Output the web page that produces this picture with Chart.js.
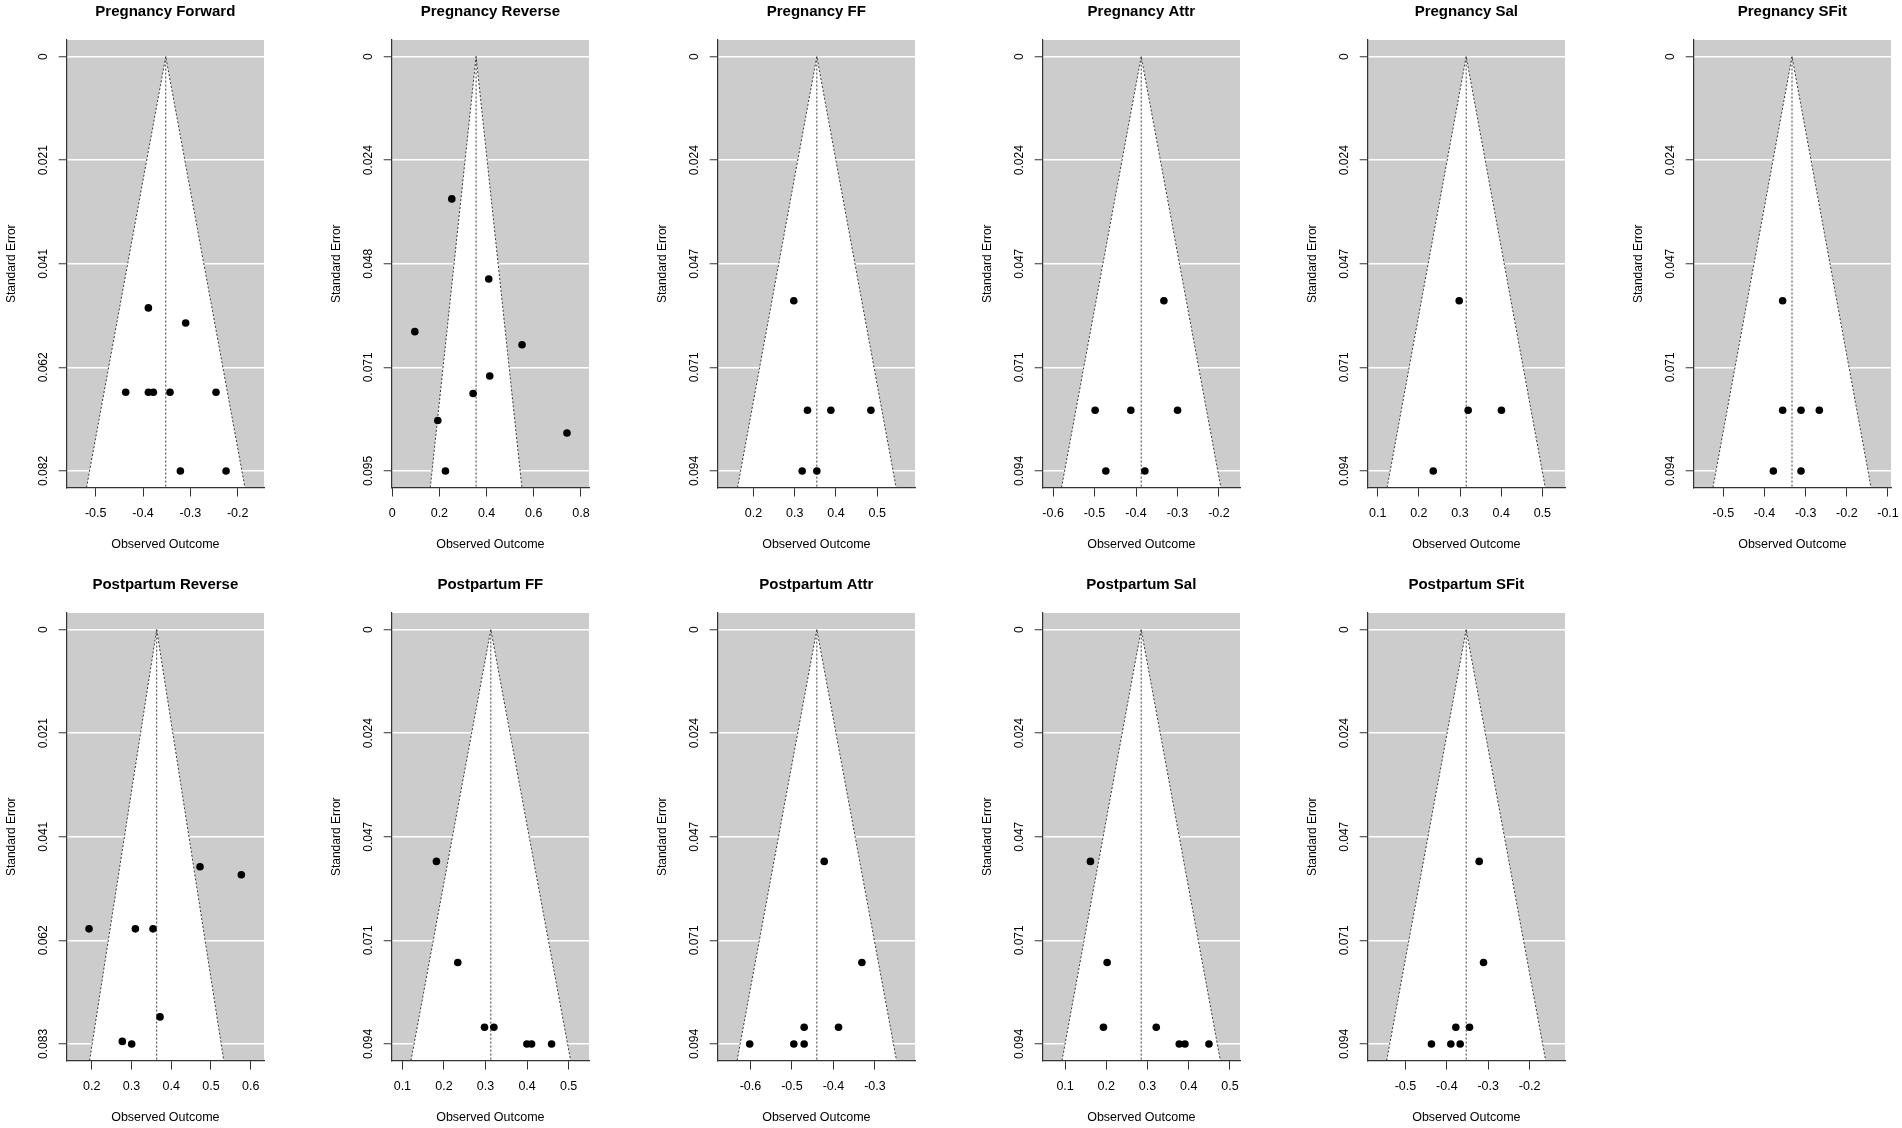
<!DOCTYPE html>
<html>
<head>
<meta charset="utf-8">
<script src="https://cdn.jsdelivr.net/npm/chart.js@4.4.0/dist/chart.umd.min.js"></script>
<style>
  html, body { margin: 0; padding: 0; background: #ffffff; }
  body { width: 1902px; height: 1128px; overflow: hidden; position: relative; }
  .panel { position: absolute; width: 275px; height: 555px; }
  canvas { display: block; }
</style>
</head>
<body>
<script>
// ---- panel titles ----
const titles = [
  'Pregnancy Forward', 'Pregnancy Reverse', 'Pregnancy FF', 'Pregnancy Attr', 'Pregnancy Sal', 'Pregnancy SFit',
  'Postpartum Reverse', 'Postpartum FF', 'Postpartum Attr', 'Postpartum Sal', 'Postpartum SFit'
];

// ---- pooled estimates (centre of each funnel) ----
const thetas = [-0.352, 0.3556, 0.3536, -0.3875, 0.315, -0.3332, 0.3635, 0.3128, -0.44, 0.2846, -0.3532];

// ---- largest standard error per panel ----
const seMax = [0.0821, 0.0952, 0.0942, 0.0942, 0.0942, 0.0942, 0.0828, 0.0942, 0.0942, 0.0942, 0.0942];

// ---- y tick labels (standard error) ----
const yTickLabels = [
  ['0', '0.021', '0.041', '0.062', '0.082'],
  ['0', '0.024', '0.048', '0.071', '0.095'],
  ['0', '0.024', '0.047', '0.071', '0.094'],
  ['0', '0.024', '0.047', '0.071', '0.094'],
  ['0', '0.024', '0.047', '0.071', '0.094'],
  ['0', '0.024', '0.047', '0.071', '0.094'],
  ['0', '0.021', '0.041', '0.062', '0.083'],
  ['0', '0.024', '0.047', '0.071', '0.094'],
  ['0', '0.024', '0.047', '0.071', '0.094'],
  ['0', '0.024', '0.047', '0.071', '0.094'],
  ['0', '0.024', '0.047', '0.071', '0.094']
];

// ---- x tick values (observed outcome) ----
const xTicks = [
  [-0.5, -0.4, -0.3, -0.2],
  [0, 0.2, 0.4, 0.6, 0.8],
  [0.2, 0.3, 0.4, 0.5],
  [-0.6, -0.5, -0.4, -0.3, -0.2],
  [0.1, 0.2, 0.3, 0.4, 0.5],
  [-0.5, -0.4, -0.3, -0.2, -0.1],
  [0.2, 0.3, 0.4, 0.5, 0.6],
  [0.1, 0.2, 0.3, 0.4, 0.5],
  [-0.6, -0.5, -0.4, -0.3],
  [0.1, 0.2, 0.3, 0.4, 0.5],
  [-0.5, -0.4, -0.3, -0.2]
];

// ---- x axis limits ----
const xMins = [-0.5613, -0.002, 0.1135, -0.625, 0.0758, -0.572, 0.1371, 0.0743, -0.6788, 0.0457, -0.5911];
const xMaxs = [-0.1444, 0.834, 0.5914, -0.1493, 0.555, -0.0927, 0.6335, 0.549, -0.2035, 0.5243, -0.1145];

// ---- study effects (yi) and standard errors (sei) ----
const pregForwardYi = [-0.3887, -0.3099, -0.4366, -0.3887, -0.3782, -0.3430, -0.2458, -0.3211, -0.2246];
const pregForwardSe = [0.0498, 0.0528, 0.0665, 0.0665, 0.0665, 0.0665, 0.0665, 0.0821, 0.0821];

const pregReverseYi = [0.2526, 0.4092, 0.0959, 0.5503, 0.4134, 0.3429, 0.1933, 0.7407, 0.2257];
const pregReverseSe = [0.0327, 0.0511, 0.0632, 0.0662, 0.0734, 0.0774, 0.0836, 0.0865, 0.0952];

const pregFFYi = [0.2978, 0.3310, 0.3876, 0.4846, 0.3181, 0.3536];
const pregFFSe = [0.0555, 0.0804, 0.0804, 0.0804, 0.0942, 0.0942];

const pregAttrYi = [-0.3328, -0.4986, -0.4125, -0.2998, -0.4728, -0.3787];
const pregAttrSe = [0.0555, 0.0804, 0.0804, 0.0804, 0.0942, 0.0942];

const pregSalYi = [0.298, 0.3198, 0.4006, 0.235];
const pregSalSe = [0.0555, 0.0804, 0.0804, 0.0942];

const pregSFitYi = [-0.3559, -0.3559, -0.3113, -0.2668, -0.3785, -0.3113];
const pregSFitSe = [0.0555, 0.0804, 0.0804, 0.0804, 0.0942, 0.0942];

const postReverseYi = [0.4725, 0.5765, 0.1933, 0.3099, 0.3543, 0.3719, 0.2771, 0.3006];
const postReverseSe = [0.0474, 0.0490, 0.0598, 0.0598, 0.0598, 0.0774, 0.0823, 0.0828];

const postFFYi = [0.1819, 0.2333, 0.2976, 0.3201, 0.3996, 0.4108, 0.459];
const postFFSe = [0.0527, 0.0757, 0.0904, 0.0904, 0.0942, 0.0942, 0.0942];

const postAttrYi = [-0.4222, -0.3314, -0.4705, -0.3877, -0.6016, -0.4954, -0.4705];
const postAttrSe = [0.0527, 0.0757, 0.0904, 0.0904, 0.0942, 0.0942, 0.0942];

const postSalYi = [0.1615, 0.202, 0.1931, 0.3211, 0.3769, 0.3907, 0.449];
const postSalSe = [0.0527, 0.0757, 0.0904, 0.0904, 0.0942, 0.0942, 0.0942];

const postSFitYi = [-0.3218, -0.3113, -0.3782, -0.3452, -0.4371, -0.3903, -0.3677];
const postSFitSe = [0.0527, 0.0757, 0.0904, 0.0904, 0.0942, 0.0942, 0.0942];

const effects = [pregForwardYi, pregReverseYi, pregFFYi, pregAttrYi, pregSalYi, pregSFitYi,
                 postReverseYi, postFFYi, postAttrYi, postSalYi, postSFitYi];
const stdErrs = [pregForwardSe, pregReverseSe, pregFFSe, pregAttrSe, pregSalSe, pregSFitSe,
                 postReverseSe, postFFSe, postAttrSe, postSalSe, postSFitSe];

// ---- layout / style ----
const FONT = '"Liberation Sans", Arial, Helvetica, sans-serif';
const COL_PITCH = 325.3, ROW_PITCH = 573;
const CANVAS_W = 275, CANVAS_H = 555;

const plotBg = {
  id: 'plotBg',
  beforeDraw(chart) {
    const a = chart.chartArea, ctx = chart.ctx;
    ctx.save();
    ctx.fillStyle = '#cccccc';
    ctx.fillRect(a.left, a.top, a.right - a.left, a.bottom - a.top);
    ctx.restore();
  }
};

titles.forEach((title, i) => {
  const row = i < 6 ? 0 : 1;
  const col = i < 6 ? i : i - 6;
  const div = document.createElement('div');
  div.className = 'panel';
  div.style.left = (col * COL_PITCH) + 'px';
  div.style.top = (row * ROW_PITCH) + 'px';
  const cv = document.createElement('canvas');
  cv.width = CANVAS_W; cv.height = CANVAS_H;
  cv.style.width = CANVAS_W + 'px'; cv.style.height = CANVAS_H + 'px';
  div.appendChild(cv);
  document.body.appendChild(div);

  const yMax = seMax[i];
  const yLo = -0.04 * yMax, yHi = 1.04 * yMax;
  const theta = thetas[i];
  const pts = effects[i].map((v, k) => ({ x: v, y: stdErrs[i][k] }));

  new Chart(cv, {
    type: 'scatter',
    data: {
      datasets: [
        {
          label: 'studies', data: pts,
          pointRadius: 3.8, pointHoverRadius: 3.8,
          pointBackgroundColor: '#000000', pointBorderColor: '#000000', pointBorderWidth: 0
        },
        {
          type: 'line', label: 'estimate', showLine: true,
          data: [{ x: theta, y: 0 }, { x: theta, y: yHi }],
          borderColor: '#3a3a3a', borderWidth: 1, borderDash: [2, 2],
          pointRadius: 0, fill: false, tension: 0
        },
        {
          type: 'line', label: 'funnel', showLine: true,
          data: [{ x: theta - 1.96 * yHi, y: yHi }, { x: theta, y: 0 }, { x: theta + 1.96 * yHi, y: yHi }],
          borderColor: '#3a3a3a', borderWidth: 1, borderDash: [2, 2],
          pointRadius: 0, backgroundColor: '#ffffff', fill: { value: yHi }, tension: 0
        }
      ]
    },
    options: {
      responsive: false,
      animation: false,
      devicePixelRatio: 1,
      layout: { padding: { left: 0, right: 11, top: 0, bottom: 0 } },
      plugins: {
        legend: { display: false },
        tooltip: { enabled: false },
        title: {
          display: true, text: title, fullSize: false, color: '#000000',
          font: { family: FONT, size: 15, weight: 'bold' },
          padding: { top: 3, bottom: 19 }
        }
      },
      scales: {
        x: {
          type: 'linear', min: xMins[i], max: xMaxs[i],
          afterBuildTicks: s => { s.ticks = xTicks[i].map(v => ({ value: v })); },
          afterFit: s => { s.height = 67.5; s.paddingLeft = 0; s.paddingRight = 0; },
          ticks: {
            autoSkip: false, maxRotation: 0, minRotation: 0, padding: 9.3,
            color: '#000000', font: { family: FONT, size: 12.5 },
            callback: v => String(v)
          },
          grid: { drawOnChartArea: false, drawTicks: true, tickLength: 9, tickColor: '#333333', tickWidth: 1 },
          border: { display: true, color: '#333333', width: 1.2, z: 1 },
          title: {
            display: true, text: 'Observed Outcome', color: '#000000',
            font: { family: FONT, size: 12.5 }, padding: { top: 0, bottom: 2.5 }
          }
        },
        y: {
          type: 'linear', reverse: true, min: yLo, max: yHi,
          afterBuildTicks: s => { s.ticks = [0, 1, 2, 3, 4].map(k => ({ value: yMax * k / 4 })); },
          afterFit: s => { s.width = 66.7; s.paddingTop = 0; s.paddingBottom = 0; },
          ticks: {
            autoSkip: false, minRotation: 90, maxRotation: 90, crossAlign: 'center', padding: 0,
            color: '#000000', font: { family: FONT, size: 12 },
            callback: (v, idx) => yTickLabels[i][idx]
          },
          grid: { color: '#ffffff', lineWidth: 1.5, drawTicks: true, tickLength: 8, tickColor: '#333333', tickWidth: 1 },
          border: { display: true, color: '#333333', width: 1.2, z: 1 },
          title: {
            display: true, text: 'Standard Error', color: '#000000',
            font: { family: FONT, size: 12 }, padding: { top: 4.5, bottom: 0 }
          }
        }
      }
    },
    plugins: [plotBg]
  });
});
</script>
</body>
</html>
